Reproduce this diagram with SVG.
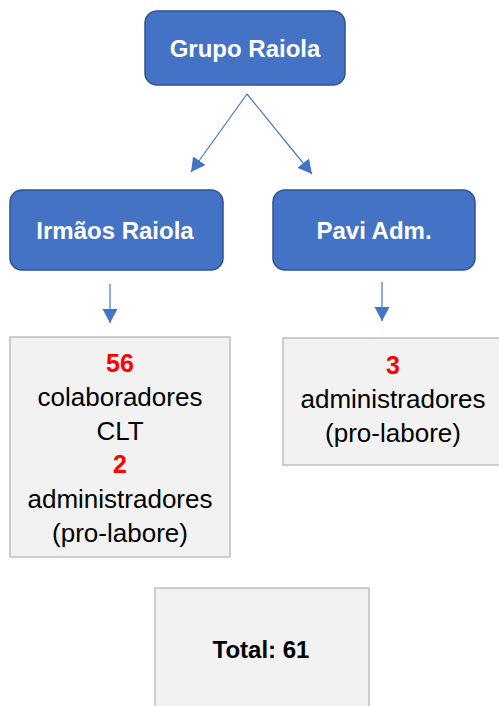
<svg xmlns="http://www.w3.org/2000/svg" width="499" height="706" viewBox="0 0 499 706">
<style>
.bn{fill:#4472C4;stroke:#2F528F;stroke-width:1.5}
.gb{fill:#F2F2F2;stroke:#BFBFBF;stroke-width:1.5}
.wt{font-family:"Liberation Sans",Arial,sans-serif;font-weight:bold;font-size:24px;fill:#FFFFFF;text-anchor:middle}
.t{font-family:"Liberation Sans",Arial,sans-serif;font-size:26px;fill:#000000;text-anchor:middle}
.r{font-weight:bold;fill:#FF0000;font-size:25px}
.b{font-weight:bold}
.c{stroke:#4472C4;stroke-width:1.2;fill:none}
</style>
<defs>
<marker id="ah" markerUnits="userSpaceOnUse" markerWidth="16" markerHeight="16" viewBox="0 0 16 16" refX="14" refY="8" orient="auto">
<path d="M0,0.5 L14,8 L0,15.5 Z" fill="#4472C4"/>
</marker>
</defs>
<g id="connectors">
<line class="c" x1="247" y1="94" x2="191" y2="172" marker-end="url(#ah)"/>
<line class="c" x1="247" y1="94" x2="312" y2="174" marker-end="url(#ah)"/>
<line class="c" x1="110" y1="284" x2="110" y2="323" marker-end="url(#ah)"/>
<line class="c" x1="382" y1="282" x2="382" y2="321" marker-end="url(#ah)"/>
</g>
<g id="grupo-raiola">
<rect class="bn" x="145" y="11" width="200" height="74" rx="12"/>
<text class="wt" x="245" y="57">Grupo Raiola</text>
</g>
<g id="irmaos-raiola">
<rect class="bn" x="10" y="190" width="213" height="80" rx="12"/>
<text class="wt" x="115" y="239">Irmãos Raiola</text>
</g>
<g id="pavi-adm">
<rect class="bn" x="273" y="190" width="202" height="80" rx="12"/>
<text class="wt" x="374" y="239">Pavi Adm.</text>
</g>
<g id="irmaos-detail">
<rect class="gb" x="10" y="337" width="220" height="220"/>
<text class="t r" x="120" y="372">56</text>
<text class="t" x="120" y="406">colaboradores</text>
<text class="t" x="120" y="440">CLT</text>
<text class="t r" x="120" y="473">2</text>
<text class="t" x="120" y="508">administradores</text>
<text class="t" x="120" y="542">(pro-labore)</text>
</g>
<g id="pavi-detail">
<rect class="gb" x="283" y="338" width="222" height="127"/>
<text class="t r" x="393" y="374">3</text>
<text class="t" x="393" y="408">administradores</text>
<text class="t" x="393" y="442">(pro-labore)</text>
</g>
<g id="total">
<rect class="gb" x="155" y="588" width="214" height="130"/>
<text class="t b" x="261" y="658" style="font-size:24px">Total: 61</text>
</g>
</svg>
